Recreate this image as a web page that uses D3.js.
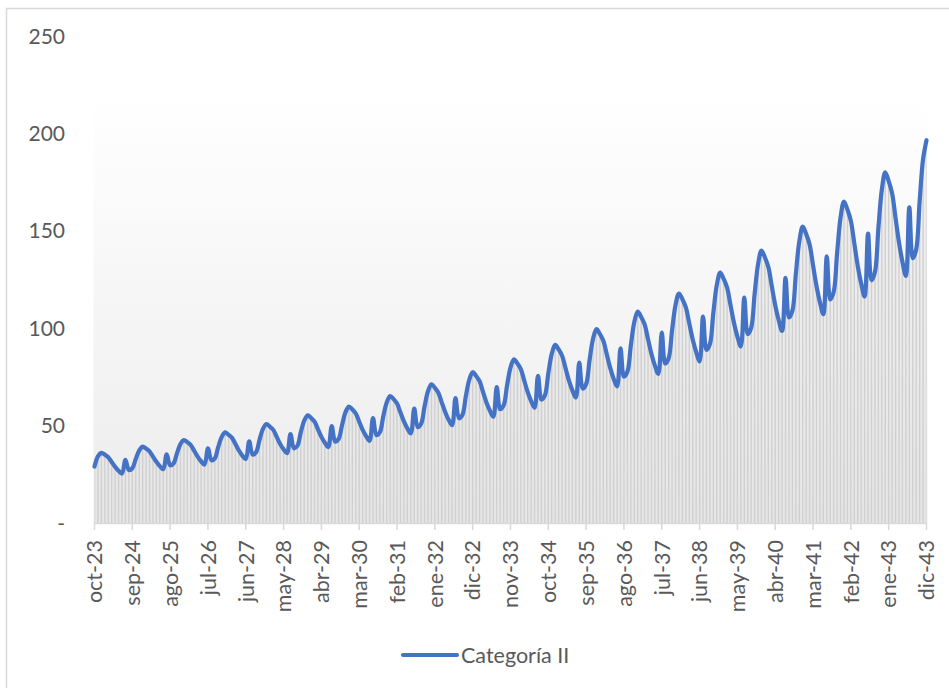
<html>
<script src="https://d3js.org/d3.v7.min.js"></script>
<body style="margin:0;background:#fff">
<script>
    var width = 949
    var height = 688

    // valores mensuales, oct-23 a dic-43
    var valores2023 = [29.0, 34.2, 36.0]
    var valores2024 = [35.1, 33.8, 31.3, 28.8, 26.8, 25.4, 32.4, 27.2, 28.1, 32.9, 37.2, 39.2]
    var valores2025 = [38.2, 36.8, 34.1, 31.4, 29.2, 27.6, 35.3, 29.6, 30.6, 35.8, 40.5, 42.6]
    var valores2026 = [41.5, 40.0, 37.1, 34.1, 31.7, 30.0, 38.3, 32.2, 33.2, 39.1, 44.2, 46.5]
    var valores2027 = [45.3, 43.7, 40.5, 37.2, 34.6, 32.8, 41.9, 35.1, 36.3, 42.7, 48.3, 50.8]
    var valores2028 = [49.5, 47.8, 44.2, 40.6, 37.8, 35.8, 45.7, 38.4, 39.6, 46.5, 52.5, 55.3]
    var valores2029 = [53.9, 52.0, 48.1, 44.2, 41.2, 39.0, 49.8, 41.8, 43.1, 50.2, 56.8, 59.8]
    var valores2030 = [58.3, 56.2, 52.0, 47.8, 44.6, 42.2, 53.8, 45.1, 46.6, 54.8, 61.9, 65.2]
    var valores2031 = [63.6, 61.3, 56.7, 52.2, 48.6, 46.0, 58.7, 49.2, 50.9, 59.8, 67.6, 71.2]
    var valores2032 = [69.4, 66.9, 61.9, 57.0, 53.0, 50.2, 64.1, 53.8, 55.5, 65.0, 73.5, 77.4]
    var valores2033 = [75.5, 72.8, 67.3, 61.9, 57.7, 54.6, 69.7, 58.4, 60.4, 70.6, 79.8, 84.0]
    var valores2034 = [81.9, 79.0, 73.1, 67.2, 62.6, 59.2, 75.6, 63.4, 65.5, 76.8, 86.8, 91.4]
    var valores2035 = [89.1, 85.9, 79.5, 73.1, 68.1, 64.4, 82.3, 69.0, 71.3, 83.6, 94.5, 99.5]
    var valores2036 = [97.0, 93.5, 86.6, 79.6, 74.1, 70.1, 89.6, 75.1, 77.6, 91.1, 103.1, 108.5]
    var valores2037 = [105.8, 102.0, 94.4, 86.8, 80.8, 76.5, 97.7, 81.9, 84.6, 99.0, 111.9, 117.8]
    var valores2038 = [114.9, 110.7, 102.5, 94.2, 87.8, 83.0, 106.0, 88.9, 91.9, 107.9, 122.1, 128.5]
    var valores2039 = [125.3, 120.8, 111.8, 102.8, 95.7, 90.6, 115.7, 97.0, 100.2, 117.4, 132.8, 139.8]
    var valores2040 = [136.3, 131.4, 121.6, 111.8, 104.2, 98.6, 125.8, 105.5, 109.0, 127.8, 144.5, 152.1]
    var valores2041 = [148.3, 143.0, 132.3, 121.7, 113.3, 107.2, 136.9, 114.8, 118.6, 138.6, 156.8, 165.0]
    var valores2042 = [160.9, 155.1, 143.6, 132.0, 122.9, 116.3, 148.5, 124.6, 128.7, 151.2, 171.0, 180.0]
    var valores2043 = [175.5, 169.2, 156.6, 144.0, 134.1, 126.9, 162.0, 135.9, 140.4, 165.1, 186.7, 196.5]

    var etiquetasX = ['oct-23', 'sep-24', 'ago-25', 'jul-26', 'jun-27', 'may-28', 'abr-29', 'mar-30',
        'feb-31', 'ene-32', 'dic-32', 'nov-33', 'oct-34', 'sep-35', 'ago-36', 'jul-37', 'jun-38',
        'may-39', 'abr-40', 'mar-41', 'feb-42', 'ene-43', 'dic-43']
    var saltoEtiquetas = 11
    var ticksY = [0, 50, 100, 150, 200, 250]
    var serie = 'Categoría II'

    var valores = [].concat(valores2023, valores2024, valores2025, valores2026, valores2027,
        valores2028, valores2029, valores2030, valores2031, valores2032, valores2033, valores2034,
        valores2035, valores2036, valores2037, valores2038, valores2039, valores2040, valores2041,
        valores2042, valores2043)

    var azul = '#4472C4'
    var gris = '#595959'
    var fuente = 'Lato, "Open Sans", sans-serif'

    var svg = d3.select('body').append('svg').attr('width', width).attr('height', height)
        .style('font-family', fuente)

    var x = d3.scaleLinear().domain([0, valores.length - 1]).range([94.5, 926.5])
    var y = d3.scaleLinear().domain([0, 250]).range([523, 36])

    var defs = svg.append('defs')
    var fondo = defs.append('linearGradient').attr('id', 'fondo')
        .attr('x1', 0).attr('y1', 0).attr('x2', 0).attr('y2', 1)
    fondo.append('stop').attr('offset', '0%').attr('stop-color', '#ffffff')
    fondo.append('stop').attr('offset', '12%').attr('stop-color', '#ffffff')
    fondo.append('stop').attr('offset', '100%').attr('stop-color', '#ececec')

    var relleno = defs.append('linearGradient').attr('id', 'relleno')
        .attr('x1', 0).attr('y1', 0).attr('x2', 0).attr('y2', 1)
    relleno.append('stop').attr('offset', '0%').attr('stop-color', '#f0f0f0')
    relleno.append('stop').attr('offset', '100%').attr('stop-color', '#e6e6e6')

    // borde del grafico
    svg.append('rect').attr('x', 6.5).attr('y', 8.5).attr('width', 960).attr('height', 700)
        .attr('fill', 'none').attr('stroke', '#d9d9d9').attr('stroke-width', 1.5)

    // fondo del area de trazado
    svg.append('rect').attr('x', x(0) - 1).attr('y', y(250))
        .attr('width', x(valores.length - 1) - x(0) + 2).attr('height', y(0) - y(250))
        .attr('fill', 'url(#fondo)')

    var curva = d3.curveCatmullRom.alpha(0.5)

    var area = d3.area().curve(curva)
        .x(function(d, i) { return x(i) })
        .y0(y(0))
        .y1(function(d) { return y(d) })

    defs.append('clipPath').attr('id', 'recorte').append('path').attr('d', area(valores))

    svg.append('path').attr('d', area(valores)).attr('fill', 'url(#relleno)')

    // rayas verticales bajo la linea
    svg.append('g').attr('clip-path', 'url(#recorte)')
        .selectAll('line').data(valores).enter().append('line')
        .attr('x1', function(d, i) { return x(i) })
        .attr('x2', function(d, i) { return x(i) })
        .attr('y1', y(0))
        .attr('y2', y(250))
        .attr('stroke', '#d0d0d0')
        .attr('stroke-width', 1.4)

    // eje x
    svg.append('line').attr('x1', x(0)).attr('x2', x(valores.length - 1))
        .attr('y1', y(0) + 0.5).attr('y2', y(0) + 0.5)
        .attr('stroke', '#d9d9d9').attr('stroke-width', 1.5)

    var posTicks = etiquetasX.map(function(d, i) { return i * saltoEtiquetas })

    svg.append('g').selectAll('line').data(posTicks).enter().append('line')
        .attr('x1', function(d) { return x(d) }).attr('x2', function(d) { return x(d) })
        .attr('y1', y(0)).attr('y2', y(0) + 7)
        .attr('stroke', '#d9d9d9').attr('stroke-width', 1.5)

    svg.append('g').selectAll('text').data(etiquetasX).enter().append('text')
        .attr('transform', function(d, i) { return 'translate(' + x(posTicks[i]) + ',540) rotate(-90)' })
        .attr('dy', '0.36em')
        .attr('text-anchor', 'end')
        .attr('fill', gris)
        .style('font-size', '21.5px')
        .text(function(d) { return d })

    // eje y
    svg.append('g').selectAll('text').data(ticksY).enter().append('text')
        .attr('x', 65)
        .attr('y', function(d) { return y(d) })
        .attr('dy', '0.36em')
        .attr('text-anchor', 'end')
        .attr('fill', gris)
        .style('font-size', '21px')
        .text(function(d) { return d == 0 ? '-' : d })

    // linea
    var linea = d3.line().curve(curva)
        .x(function(d, i) { return x(i) })
        .y(function(d) { return y(d) })

    svg.append('path').attr('d', linea(valores))
        .attr('fill', 'none').attr('stroke', azul).attr('stroke-width', 4.2)
        .attr('stroke-linejoin', 'round').attr('stroke-linecap', 'round')

    // leyenda
    var leyenda = svg.append('g').attr('transform', 'translate(403,655)')
    leyenda.append('line').attr('x1', 0).attr('x2', 54).attr('y1', 0).attr('y2', 0)
        .attr('stroke', azul).attr('stroke-width', 4.2).attr('stroke-linecap', 'round')
    leyenda.append('text').attr('x', 58).attr('y', 0).attr('dy', '0.36em')
        .attr('fill', gris).style('font-size', '21.5px')
        .text(serie)
</script>
</body>
</html>
